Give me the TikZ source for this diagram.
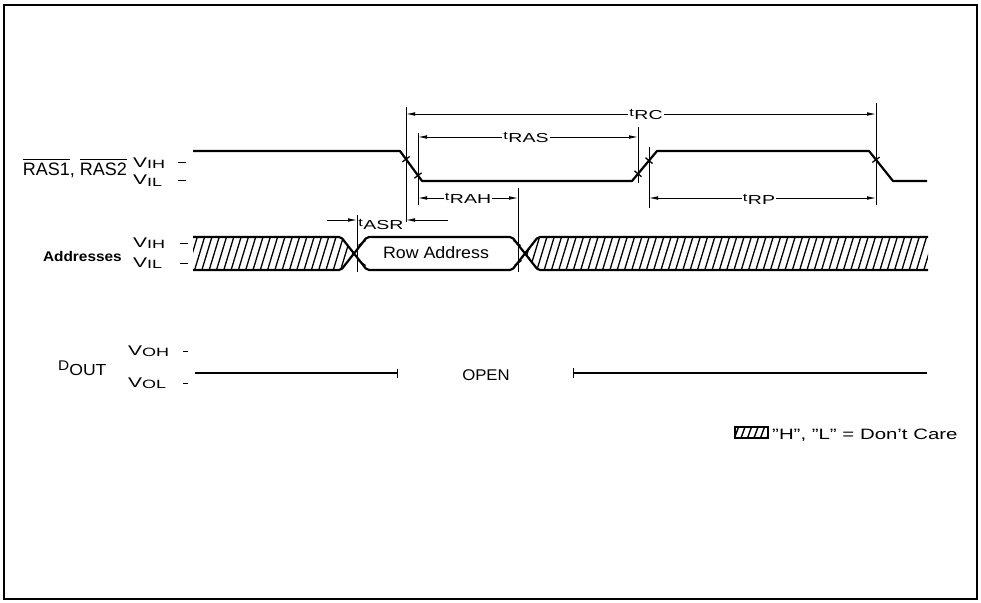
\documentclass[tikz,border=0pt]{standalone}
\usepackage{fontspec}
\setmainfont{Liberation Sans}
\usepackage{graphicx}
\usetikzlibrary{arrows.meta}
\newcommand{\tlab}[1]{\scalebox{1.5}[1]{\raisebox{3pt}{\fontsize{11}{11}\selectfont t}\kern0.3pt\fontsize{13}{13}\selectfont #1}}
\newcommand{\vlab}[2]{\scalebox{1.5}[1]{\fontsize{14}{14}\selectfont #1\raisebox{-1.8pt}{\fontsize{12}{12}\selectfont #2}}}
\newcommand{\ovl}[1]{\leavevmode\vbox{\hrule height 0.9pt\kern 2.2pt\hbox{#1}}}
\begin{document}
\begin{tikzpicture}[x=1pt,y=-1pt,
  sig/.style={line width=2.2pt, line join=round},
  dimline/.style={line width=0.8pt},
  ddarr/.style={dimline, {Latex[length=9pt,width=3.6pt]}-{Latex[length=9pt,width=3.6pt]}},
  darr/.style={dimline, -{Latex[length=9pt,width=3.6pt]}},
  tickst/.style={line width=1.3pt},
  hatchline/.style={line width=1.3pt},
  dashst/.style={line width=1pt},
  lbl/.style={inner sep=1pt, fill=white},
  txt/.style={inner sep=0pt}]
\useasboundingbox (0,0) rectangle (981,602);
% frame
\draw[line width=1.8pt] (4,5) rectangle (977,599);

% ---------- left labels ----------
\node[txt, anchor=base east] (raslab) at (127,175) {\fontsize{18}{18}\selectfont \ovl{RAS1}, \ovl{RAS2}};
\node[txt, anchor=base west] (rasvih) at (133,167) {\vlab{V}{IH}};
\node[txt, anchor=base west] (rasvil) at (133,184.5) {\vlab{V}{IL}};
\node[txt, anchor=base east] (addrlab) at (122,261) {\scalebox{1.1}[1]{\fontsize{14}{14}\selectfont\bfseries Addresses}};
\node[txt, anchor=base west] (advih) at (133,247) {\vlab{V}{IH}};
\node[txt, anchor=base west] (advil) at (133,267) {\vlab{V}{IL}};
\node[txt, anchor=base west] (doutlab) at (58,375) {\scalebox{1.1}[1]{\raisebox{5pt}{\fontsize{14}{14}\selectfont D}\fontsize{16}{16}\selectfont OUT}};
\node[txt, anchor=base west] (vohlab) at (128,355) {\vlab{V}{OH}};
\node[txt, anchor=base west] (vollab) at (128,387) {\vlab{V}{OL}};
% level dashes
\draw[dashst] (178,162) -- (186,162);
\draw[dashst] (178,180) -- (186,180);
\draw[dashst] (180,243) -- (188,243);
\draw[dashst] (180,263) -- (188,263);
\draw[dashst] (183,351) -- (188,351);
\draw[dashst] (183,383) -- (188,383);

% ---------- RAS signal ----------
\draw[sig] (193,151) -- (400,151) -- (422,181) -- (632,181) -- (657,151) -- (869,151) -- (893,181) -- (927,181);
% threshold ticks on RAS edges
\draw[tickst] (402.4,161.9) -- (409.6,156.5);
\draw[tickst] (414.4,178.2) -- (421.6,172.8);
\draw[tickst] (634.5,170.9) -- (641.5,176.7);
\draw[tickst] (645.5,157.7) -- (652.5,163.5);
\draw[tickst] (872.4,162.4) -- (879.6,157.1);

% ---------- Address signal ----------
\begin{scope}
  \clip (193,237) -- (341,237) -- (354,253.5) -- (341,270) -- (193,270) -- cycle;
  \foreach \x in {180,187.3,...,360} {\draw[hatchline] (\x,270) -- (\x+10,237);}
\end{scope}
\begin{scope}
  \clip (525,253.5) -- (538,237) -- (928,237) -- (928,270) -- (538,270) -- cycle;
  \foreach \x in {515,522.3,...,935} {\draw[hatchline] (\x,270) -- (\x+10,237);}
\end{scope}
\draw[sig, rounded corners=2pt] (193,237) -- (341,237) -- (367,270) -- (512,270) -- (538,237) -- (928,237);
\draw[sig, rounded corners=2pt] (193,270) -- (341,270) -- (367,237) -- (512,237) -- (538,270) -- (928,270);
\node[txt, anchor=base] (rowaddr) at (436,258.3) {\scalebox{1.08}[1]{\fontsize{16.5}{16.5}\selectfont Row Address}};
% threshold ticks on address edges
\draw[tickst] (358.5,245.5) -- (365.5,240.5);
\draw[tickst] (358.5,260.5) -- (365.5,265.5);
\draw[tickst] (513.5,240.5) -- (520.5,245.5);
\draw[tickst] (514.5,265.5) -- (521.5,260.5);

% ---------- Dout ----------
\draw[line width=1.8pt] (195,373) -- (397,373);
\draw[line width=1pt] (397,368.5) -- (397,377.5);
\draw[line width=1.8pt] (573,373) -- (927,373);
\draw[line width=1pt] (573,368) -- (573,378);
\node[txt, anchor=base] (openlab) at (486,380.7) {\scalebox{1.08}[1]{\fontsize{15.5}{15.5}\selectfont OPEN}};

% ---------- dimension verticals ----------
\coordinate (v1t) at (406,107); \coordinate (v1b) at (406,222);
\coordinate (v2t) at (418,133); \coordinate (v2b) at (418,205);
\coordinate (v3t) at (638,127); \coordinate (v3b) at (638,183);
\coordinate (v4t) at (649,147); \coordinate (v4b) at (649,208);
\coordinate (v5t) at (876,103); \coordinate (v5b) at (876,205);
\coordinate (v6t) at (357,215); \coordinate (v6b) at (357,272);
\coordinate (v7t) at (518,188); \coordinate (v7b) at (518,272);
\foreach \v in {v1,v2,v3,v4,v5,v6,v7} {\draw[dimline] (\v t) -- (\v b);}

% ---------- dimension arrows ----------
\coordinate (rcL) at (406,114); \coordinate (rcR) at (876,114);
\coordinate (rasL) at (418,137); \coordinate (rasR) at (638,137);
\coordinate (rahL) at (418,198); \coordinate (rahR) at (518,198);
\coordinate (rpL) at (649,198); \coordinate (rpR) at (876,198);
\coordinate (asrA) at (327,220); \coordinate (asrB) at (357,220);
\coordinate (asrC) at (448,220); \coordinate (asrD) at (406,220);
\draw[ddarr] (rcL) -- (rcR);
\draw[ddarr] (rasL) -- (rasR);
\draw[ddarr] (rahL) -- (rahR);
\draw[ddarr] (rpL) -- (rpR);
\draw[darr] (asrA) -- (asrB);
\draw[darr] (asrC) -- (asrD);
\node[lbl, anchor=base] (trc) at (646,119.3) {\tlab{RC}};
\node[lbl, anchor=base] (tras) at (526,142.5) {\tlab{RAS}};
\node[lbl, anchor=base] (trah) at (468,203) {\tlab{RAH}};
\node[lbl, anchor=base] (trp) at (759,204) {\tlab{RP}};
\node[txt, anchor=base] (tasr) at (381,229.5) {\tlab{ASR}};

% ---------- legend ----------
\begin{scope}
  \clip (735,427) rectangle (768,438);
  \foreach \x in {728,734.5,...,770} {\draw[line width=1.4pt] (\x,438) -- (\x+4,427);}
\end{scope}
\draw[line width=1.4pt] (735,427) rectangle (768,438);
\node[txt, anchor=base west] (legend) at (772,439) {\scalebox{1.36}[1]{\fontsize{15}{15}\selectfont ''H'', ''L'' = Don't Care}};
\end{tikzpicture}
\end{document}
